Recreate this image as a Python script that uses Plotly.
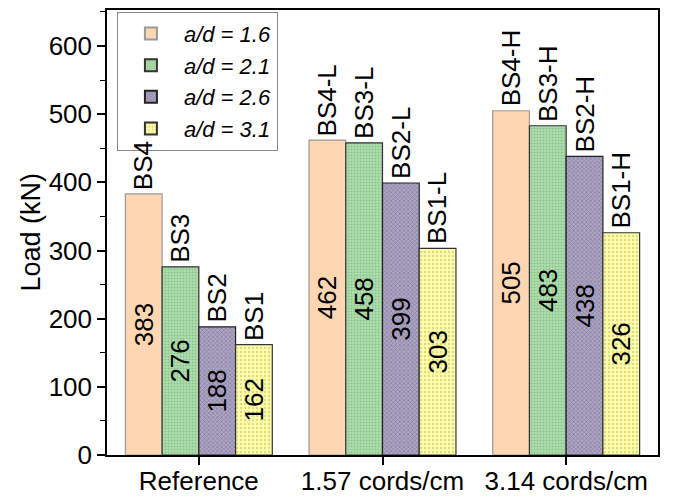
import plotly.graph_objects as go

groups = ["Reference", "1.57 cords/cm", "3.14 cords/cm"]
series_names = ["a/d = 1.6", "a/d = 2.1", "a/d = 2.6", "a/d = 3.1"]
values = [
    [383, 462, 505],
    [276, 458, 483],
    [188, 399, 438],
    [162, 303, 326],
]
specimen_labels = [
    ["BS4", "BS4-L", "BS4-H"],
    ["BS3", "BS3-L", "BS3-H"],
    ["BS2", "BS2-L", "BS2-H"],
    ["BS1", "BS1-L", "BS1-H"],
]
y_ticks = [0, 100, 200, 300, 400, 500, 600]

bg_colors = ["#FFD6B2", "#ADDEAD", "#ADA5C2", "#FFFFAA"]
fg_colors = ["#FFD6B2", "#6FA36F", "#6A6088", "#B8B860"]
pattern_shapes = ["", ".", "x", "."]
pattern_sizes = [8, 3, 3, 4]
pattern_solid = [0.2, 0.35, 0.45, 0.3]
line_colors = ["#999999", "#333333", "#222222", "#333333"]

FONT = "Liberation Sans, Arial, sans-serif"
FS = 26

fig = go.Figure()
for i in range(4):
    fig.add_trace(go.Bar(
        name="<i>" + series_names[i] + "</i>",
        x=groups,
        y=values[i],
        text=[str(v) for v in values[i]],
        textposition="inside",
        insidetextanchor="middle",
        textangle=-90,
        textfont=dict(size=FS, color="black", family=FONT),
        marker=dict(
            color=bg_colors[i],
            line=dict(color=line_colors[i], width=1.2),
            pattern=dict(shape=pattern_shapes[i], fgcolor=fg_colors[i],
                         bgcolor=bg_colors[i], size=pattern_sizes[i],
                         solidity=pattern_solid[i], fillmode="overlay"),
        ),
    ))

# outside specimen labels via annotations (grouped offsets)
n = 4
bw = 0.8 / n
for i in range(n):
    off = -0.4 + bw * (i + 0.5)
    for g in range(len(groups)):
        fig.add_annotation(
            x=g + off, y=values[i][g], xref="x", yref="y",
            text=specimen_labels[i][g], textangle=-90,
            showarrow=False, yanchor="bottom", xanchor="center",
            yshift=2,
            font=dict(size=FS, color="black", family=FONT),
        )

# y-axis title
fig.add_annotation(
    x=-(107 - 30) / 551, y=0.5, xref="paper", yref="paper",
    text="Load (kN)", textangle=-90, showarrow=False,
    xanchor="center", yanchor="middle",
    font=dict(size=27, color="black", family=FONT),
)

W, H = 670, 493
fig.update_layout(
    width=W, height=H,
    margin=dict(l=99, r=W - 650, t=2, b=H - 447, autoexpand=False),
    paper_bgcolor="white", plot_bgcolor="white",
    barmode="group", bargap=0.2, bargroupgap=0,
    font=dict(family=FONT, size=FS, color="black"),
    showlegend=True,
    legend=dict(
        x=0.018, y=0.996, xanchor="left", yanchor="top",
        bordercolor="#888888", borderwidth=1, bgcolor="white",
        font=dict(size=22, family=FONT),
        itemsizing="constant", tracegroupgap=0, itemwidth=56,
    ),
)

fig.update_xaxes(
    type="category", range=[-0.5, 2.5], automargin=False,
    showline=True, linecolor="black", linewidth=1.5, mirror=True,
    ticks="outside", ticklen=8, tickwidth=1.5, tickcolor="black",
    ticklabelstandoff=-6,
    minor=dict(ticks="outside", ticklen=5, tickwidth=1.2, tickcolor="black", showgrid=False),
    showgrid=False, tickfont=dict(size=FS, family=FONT),
)
fig.update_yaxes(
    range=[0, 652.8], tickvals=y_ticks, automargin=False,
    showline=True, linecolor="black", linewidth=1.5, mirror=True,
    ticks="outside", ticklen=8, tickwidth=1.5, tickcolor="black",
    minor=dict(ticks="outside", ticklen=5, tickwidth=1.2, tickcolor="black", dtick=50, showgrid=False),
    showgrid=False, zeroline=False,
    tickfont=dict(size=FS, family=FONT),
)

fig.write_html("out.html")
